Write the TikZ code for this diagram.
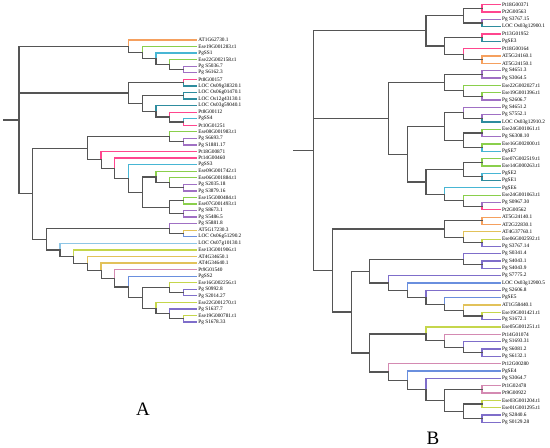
\documentclass[tikz,border=0pt]{standalone}
\usepackage{fontspec}
\setmainfont{Liberation Serif}
\usetikzlibrary{calc}
\definecolor{cPk}{HTML}{FF468E}
\definecolor{cGr}{HTML}{8ACF4C}
\definecolor{cPu}{HTML}{A070C4}
\definecolor{cTl}{HTML}{2E8C9E}
\definecolor{cCy}{HTML}{48B6D4}
\definecolor{cOr}{HTML}{F5A05E}
\definecolor{cYe}{HTML}{E2C25A}
\definecolor{cYg}{HTML}{C5D64C}
\definecolor{cBl}{HTML}{6A8FDE}
\definecolor{cLb}{HTML}{8EC6E6}
\definecolor{cMv}{HTML}{D48AB2}
\definecolor{cPb}{HTML}{7F6ECA}
\definecolor{cIn}{HTML}{555555}
\newcommand\LA[4]{\coordinate (#1) at (197,{40+(#2-1)*6.56});
  \node[lbl] (t#1) at (#1) {#4};
  \tikzset{#1c/.style={leafedge,draw=#3}}}
\newcommand\LB[4]{\coordinate (#1) at (500.7,{4.7+(#2-1)*7.326});
  \node[lbl] (t#1) at (#1) {#4};
  \tikzset{#1c/.style={leafedge,draw=#3}}}
\newcommand\cl[4]{\path let \p1=(#3),\p2=(#4) in coordinate (#1) at (#2,{0.5*(\y1+\y2)});
  \tikzset{#1c/.style={intedge}}
  \draw[#3c] (#1) |- (#3);
  \draw[#4c] (#1) |- (#4);}
\newcommand\E[2]{\draw[#2c] (#1) |- (#2);}
\begin{document}
\begin{tikzpicture}[x=1pt,y=-1pt,
  lbl/.style={anchor=west,inner xsep=1.2pt,inner ysep=0.3pt,font=\fontsize{5.3}{6}\selectfont},
  leafedge/.style={line width=1.25pt},
  intedge/.style={draw=cIn,line width=1.2pt,line cap=rect},
  biglbl/.style={font=\fontsize{19}{22}\selectfont,inner sep=0pt}]
\useasboundingbox (0,0) rectangle (550,448);
% ---------------- Tree A leaves
\LA{a1}{1}{cOr}{AT1G62730.1}
\LA{a2}{2}{cGr}{Ese19G001283.t1}
\LA{a3}{3}{cCy}{PgSS1}
\LA{a4}{4}{cGr}{Ese22G002158.t1}
\LA{a5}{5}{cPu}{Pg S5036.7}
\LA{a6}{6}{cPu}{Pg S6162.3}
\LA{a7}{7}{cPk}{Pt8G00157}
\LA{a8}{8}{cTl}{LOC Os09g38320.1}
\LA{a9}{9}{cTl}{LOC Os06g01470.1}
\LA{a10}{10}{cTl}{LOC Os12g43130.1}
\LA{a11}{11}{cTl}{LOC Os03g59040.1}
\LA{a12}{12}{cPk}{Pt8G00112}
\LA{a13}{13}{cCy}{PgSS4}
\LA{a14}{14}{cPk}{Pt10G01251}
\LA{a15}{15}{cGr}{Ese08G001983.t1}
\LA{a16}{16}{cPu}{Pg S6693.7}
\LA{a17}{17}{cPu}{Pg S1881.17}
\LA{a18}{18}{cPk}{Pt18G00871}
\LA{a19}{19}{cPk}{Pt14G00460}
\LA{a20}{20}{cCy}{PgSS3}
\LA{a21}{21}{cGr}{Ese09G001742.t1}
\LA{a22}{22}{cGr}{Ese06G001884.t1}
\LA{a23}{23}{cPu}{Pg S2035.18}
\LA{a24}{24}{cPu}{Pg S3879.16}
\LA{a25}{25}{cGr}{Ese15G000484.t1}
\LA{a26}{26}{cGr}{Ese07G001493.t1}
\LA{a27}{27}{cPu}{Pg S8673.1}
\LA{a28}{28}{cPu}{Pg S5486.5}
\LA{a29}{29}{cPu}{Pg S5881.8}
\LA{a30}{30}{cYe}{AT5G17230.3}
\LA{a31}{31}{cBl}{LOC Os06g51290.2}
\LA{a32}{32}{cLb}{LOC Os07g10130.1}
\LA{a33}{33}{cYg}{Ese13G001906.t1}
\LA{a34}{34}{cYe}{AT4G34650.1}
\LA{a35}{35}{cYe}{AT4G34640.1}
\LA{a36}{36}{cMv}{Pt9G01540}
\LA{a37}{37}{cBl}{PgSS2}
\LA{a38}{38}{cYg}{Ese16G002256.t1}
\LA{a39}{39}{cPb}{Pg S0992.8}
\LA{a40}{40}{cPb}{Pg S2014.27}
\LA{a41}{41}{cYg}{Ese22G001270.t1}
\LA{a42}{42}{cPb}{Pg S1637.7}
\LA{a43}{43}{cYg}{Ese19G000781.t1}
\LA{a44}{44}{cPb}{Pg S1678.33}
% ---------------- Tree A internal nodes
\cl{A1}{183.3}{a5}{a6}
\cl{A2}{169.6}{a4}{A1}
\cl{A3}{155.9}{a3}{A2}
\cl{A4}{142.2}{a2}{A3}
\cl{A5}{128.5}{a1}{A4}
\cl{A6}{183.3}{a7}{a8}
\cl{A7}{183.3}{a9}{a10}
\cl{A8}{183.3}{a13}{a14}
\cl{A9}{169.6}{a12}{A8}
\cl{A10}{155.9}{a11}{A9}
\cl{A11}{142.2}{A7}{A10}
\cl{A12}{128.5}{A6}{A11}
\cl{A13}{183.3}{a16}{a17}
\cl{A14}{169.6}{a15}{A13}
\cl{A15}{183.3}{a23}{a24}
\cl{A16}{169.6}{a22}{A15}
\cl{A17}{155.9}{a21}{A16}
\cl{A18}{183.3}{a25}{a26}
\cl{A19}{183.3}{a27}{a28}
\cl{A20}{169.6}{A18}{A19}
\cl{A21}{142.2}{A17}{A20}
\cl{A22}{128.5}{a20}{A21}
\cl{A23}{114.8}{a19}{A22}
\cl{A24}{101.1}{a18}{A23}
\cl{A25}{87.4}{A14}{A24}
\cl{A26}{183.3}{a30}{a31}
\cl{A27}{169.6}{a29}{A26}
\cl{A28}{183.3}{a39}{a40}
\cl{A29}{169.6}{a38}{A28}
\cl{A30}{183.3}{a43}{a44}
\cl{A31}{169.6}{a42}{A30}
\cl{A32}{155.9}{a41}{A31}
\cl{A33}{142.2}{A29}{A32}
\cl{A34}{128.5}{a37}{A33}
\cl{A35}{114.8}{a36}{A34}
\cl{A36}{101.1}{a35}{A35}
\cl{A37}{87.4}{a34}{A36}
\cl{A38}{73.7}{a33}{A37}
\cl{A39}{60.0}{a32}{A38}
\cl{A40}{46.3}{A27}{A39}
\cl{A41}{32.6}{A25}{A40}
\cl{A42}{18.9}{A5}{A41}
\E{A42}{A12}
\coordinate (A0) at ($(A42)+(-14.9,0)$);
\draw[intedge] (A0) -- (A42);
% ---------------- Tree B leaves
\LB{b1}{1}{cPk}{Pt18G00371}
\LB{b2}{2}{cPk}{Pt2G00563}
\LB{b3}{3}{cPu}{Pg S3767.15}
\LB{b4}{4}{cTl}{LOC Os03g12900.1}
\LB{b5}{5}{cPk}{Pt13G01952}
\LB{b6}{6}{cTl}{PgSE3}
\LB{b7}{7}{cPk}{Pt18G00164}
\LB{b8}{8}{cOr}{AT5G24160.1}
\LB{b9}{9}{cOr}{AT5G24150.1}
\LB{b10}{10}{cPu}{Pg S4651.3}
\LB{b11}{11}{cPu}{Pg S3064.5}
\LB{b12}{12}{cGr}{Ese22G002027.t1}
\LB{b13}{13}{cGr}{Ese19G001396.t1}
\LB{b14}{14}{cPu}{Pg S2606.7}
\LB{b15}{15}{cPu}{Pg S4651.2}
\LB{b16}{16}{cPu}{Pg S7552.1}
\LB{b17}{17}{cTl}{LOC Os03g12910.2}
\LB{b18}{18}{cGr}{Ese24G001061.t1}
\LB{b19}{19}{cPu}{Pg S6308.10}
\LB{b20}{20}{cGr}{Ese16G002000.t1}
\LB{b21}{21}{cCy}{PgSE7}
\LB{b22}{22}{cGr}{Ese07G002519.t1}
\LB{b23}{23}{cGr}{Ese14G000263.t1}
\LB{b24}{24}{cCy}{PgSE2}
\LB{b25}{25}{cTl}{PgSE1}
\LB{b26}{26}{cCy}{PgSE6}
\LB{b27}{27}{cGr}{Ese24G001063.t1}
\LB{b28}{28}{cPu}{Pg S0967.30}
\LB{b29}{29}{cPk}{Pt2G00562}
\LB{b30}{30}{cOr}{AT5G24140.1}
\LB{b31}{31}{cOr}{AT2G22830.1}
\LB{b32}{32}{cYe}{AT4G37760.1}
\LB{b33}{33}{cYg}{Ese06G002592.t1}
\LB{b34}{34}{cPb}{Pg S3767.14}
\LB{b35}{35}{cPb}{Pg S0341.4}
\LB{b36}{36}{cPb}{Pg S4043.1}
\LB{b37}{37}{cPb}{Pg S4043.9}
\LB{b38}{38}{cPb}{Pg S7775.2}
\LB{b39}{39}{cBl}{LOC Os03g12900.5}
\LB{b40}{40}{cPb}{Pg S2606.8}
\LB{b41}{41}{cBl}{PgSE5}
\LB{b42}{42}{cYe}{AT1G58440.1}
\LB{b43}{43}{cYg}{Ese19G001421.t1}
\LB{b44}{44}{cPb}{Pg S1672.1}
\LB{b45}{45}{cYg}{Ese05G001251.t1}
\LB{b46}{46}{cMv}{Pt14G01074}
\LB{b47}{47}{cPb}{Pg S1693.31}
\LB{b48}{48}{cPb}{Pg S6081.2}
\LB{b49}{49}{cPb}{Pg S6132.1}
\LB{b50}{50}{cMv}{Pt12G00280}
\LB{b51}{51}{cBl}{PgSE4}
\LB{b52}{52}{cPb}{Pg S3064.7}
\LB{b53}{53}{cMv}{Pt1G02478}
\LB{b54}{54}{cMv}{Pt9G00922}
\LB{b55}{55}{cYg}{Ese03G001204.t1}
\LB{b56}{56}{cYg}{Ese01G001295.t1}
\LB{b57}{57}{cPb}{Pg S2840.6}
\LB{b58}{58}{cPb}{Pg S0129.28}
% ---------------- Tree B internal nodes
\cl{B1}{482}{b1}{b2}
\cl{B2}{482}{b3}{b4}
\cl{B3}{463.3}{B1}{B2}
\cl{B4}{482}{b5}{b6}
\cl{B5}{482}{b8}{b9}
\cl{B6}{463.3}{b7}{B5}
\cl{B7}{444.6}{B4}{B6}
\cl{B8}{425.9}{B3}{B7}
\cl{B9}{482}{b10}{b11}
\cl{B10}{482}{b13}{b14}
\cl{B11}{463.3}{b12}{B10}
\cl{B12}{444.6}{B9}{B11}
\cl{B13}{482}{b16}{b17}
\cl{B14}{463.3}{b15}{B13}
\cl{B15}{482}{b18}{b19}
\cl{B16}{482}{b20}{b21}
\cl{B17}{463.3}{B15}{B16}
\cl{B18}{444.6}{B14}{B17}
\cl{B19}{482}{b22}{b23}
\cl{B20}{482}{b24}{b25}
\cl{B21}{463.3}{B19}{B20}
\cl{B22}{482}{b28}{b29}
\cl{B23}{463.3}{b27}{B22}
\cl{B24}{444.6}{b26}{B23}
\cl{B25}{425.9}{B21}{B24}
\cl{B26}{407.2}{B18}{B25}
\cl{B27}{388.5}{B12}{B26}
\cl{B28}{482}{b30}{b31}
\cl{B29}{482}{b33}{b34}
\cl{B30}{463.3}{b32}{B29}
\cl{B31}{444.6}{B28}{B30}
\cl{B32}{482}{b36}{b37}
\cl{B33}{463.3}{b35}{B32}
\cl{B34}{482}{b43}{b44}
\cl{B35}{463.3}{b42}{B34}
\cl{B36}{444.6}{b41}{B35}
\cl{B37}{425.9}{b40}{B36}
\cl{B38}{407.2}{b39}{B37}
\cl{B39}{388.5}{b38}{B38}
\cl{B40}{369.8}{B33}{B39}
\cl{B41}{482}{b48}{b49}
\cl{B42}{463.3}{b47}{B41}
\cl{B43}{444.6}{b46}{B42}
\cl{B44}{425.9}{b45}{B43}
\cl{B45}{482}{b53}{b54}
\cl{B46}{482}{b55}{b56}
\cl{B47}{482}{b57}{b58}
\cl{B48}{463.3}{B46}{B47}
\cl{B49}{444.6}{B45}{B48}
\cl{B50}{425.9}{b52}{B49}
\cl{B51}{407.2}{b51}{B50}
\cl{B52}{388.5}{b50}{B51}
\cl{B53}{369.8}{B44}{B52}
\cl{B54}{351.1}{B40}{B53}
\cl{B55}{332.4}{B31}{B54}
\cl{B56}{313.7}{B8}{B55}
\E{B56}{B27}
\coordinate (B0) at ($(B56)+(-19.7,0)$);
\draw[intedge] (B0) -- (B56);
% ---------------- panel letters
\node[biglbl] (capA) at (143,409.5) {A};
\node[biglbl] (capB) at (433,438.5) {B};
\end{tikzpicture}
\end{document}
